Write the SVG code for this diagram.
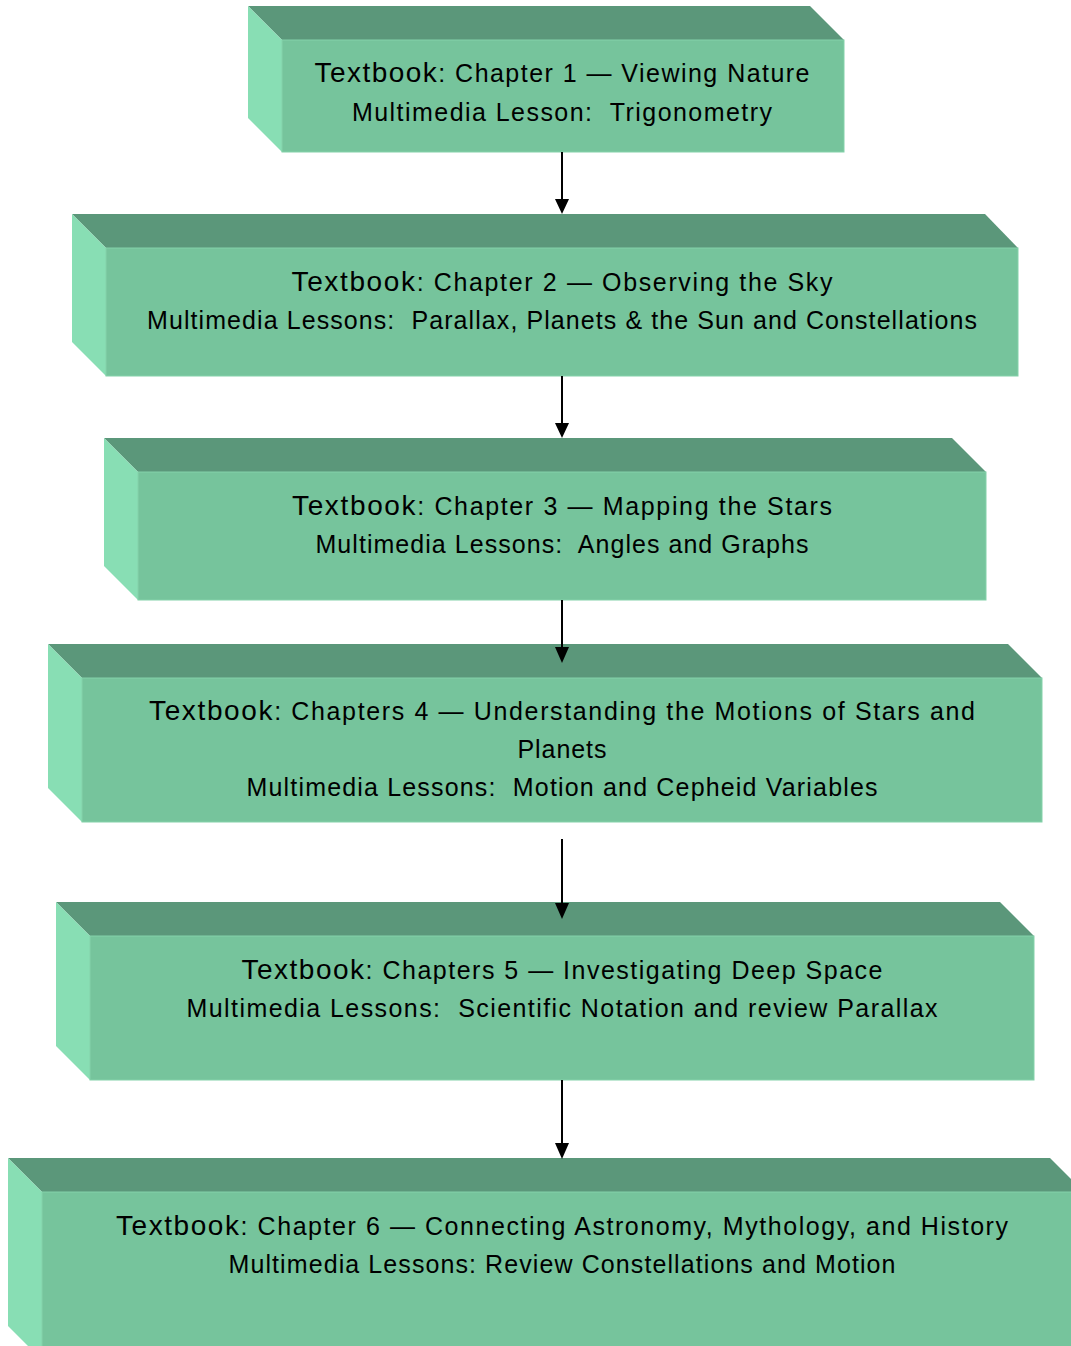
<svg xmlns="http://www.w3.org/2000/svg" width="1071" height="1346" viewBox="0 0 1071 1346">
<style>
.top{fill:#5B977A}
.left{fill:#88DEB4}
.front{fill:#76C49C;stroke:#84D2AA;stroke-width:1}
text{font-family:"Liberation Sans",Arial,sans-serif;font-size:25px;fill:#000;text-anchor:middle;white-space:pre}
.big{font-size:28px}
.conn{stroke:#000;stroke-width:2;fill:none}
.head{fill:#000}
</style>
<g id="node1">
<polygon class="top" points="248,6 810,6 844,40 282,40"/>
<polygon class="left" points="248,6 282,40 282,152 248,118"/>
<rect class="front" x="282" y="40" width="562" height="112"/>
<text x="562" y="82" textLength="495" lengthAdjust="spacing"><tspan class="big">Textbook</tspan>: Chapter 1 — Viewing Nature</text>
<text x="562" y="121" textLength="420" lengthAdjust="spacing">Multimedia Lesson:  Trigonometry</text>
</g>
<g id="node2">
<polygon class="top" points="72,214 985,214 1018,248 106,248"/>
<polygon class="left" points="72,214 106,248 106,376 72,342"/>
<rect class="front" x="106" y="248" width="912" height="128"/>
<text x="562" y="291" textLength="541" lengthAdjust="spacing"><tspan class="big">Textbook</tspan>: Chapter 2 — Observing the Sky</text>
<text x="562" y="329" textLength="830" lengthAdjust="spacing">Multimedia Lessons:  Parallax, Planets &amp; the Sun and Constellations</text>
</g>
<g id="node3">
<polygon class="top" points="104,438 952,438 986,472 138,472"/>
<polygon class="left" points="104,438 138,472 138,600 104,566"/>
<rect class="front" x="138" y="472" width="848" height="128"/>
<text x="562" y="515" textLength="540" lengthAdjust="spacing"><tspan class="big">Textbook</tspan>: Chapter 3 — Mapping the Stars</text>
<text x="562" y="553" textLength="493" lengthAdjust="spacing">Multimedia Lessons:  Angles and Graphs</text>
</g>
<g id="node4">
<polygon class="top" points="48,644 1008,644 1042,678 82,678"/>
<polygon class="left" points="48,644 82,678 82,822 48,788"/>
<rect class="front" x="82" y="678" width="960" height="144"/>
<text x="562" y="720" textLength="826" lengthAdjust="spacing"><tspan class="big">Textbook</tspan>: Chapters 4 — Understanding the Motions of Stars and</text>
<text x="562" y="758" textLength="89" lengthAdjust="spacing">Planets</text>
<text x="562" y="796" textLength="631" lengthAdjust="spacing">Multimedia Lessons:  Motion and Cepheid Variables</text>
</g>
<g id="node5">
<polygon class="top" points="56,902 1000,902 1034,936 90,936"/>
<polygon class="left" points="56,902 90,936 90,1080 56,1046"/>
<rect class="front" x="90" y="936" width="944" height="144"/>
<text x="562" y="979" textLength="641" lengthAdjust="spacing"><tspan class="big">Textbook</tspan>: Chapters 5 — Investigating Deep Space</text>
<text x="562" y="1017" textLength="751" lengthAdjust="spacing">Multimedia Lessons:  Scientific Notation and review Parallax</text>
</g>
<g id="node6">
<polygon class="top" points="8,1158 1050,1158 1084,1192 42,1192"/>
<polygon class="left" points="8,1158 42,1192 42,1360 8,1326"/>
<rect class="front" x="42" y="1192" width="1060" height="170"/>
<text x="562" y="1235" textLength="892" lengthAdjust="spacing"><tspan class="big">Textbook</tspan>: Chapter 6 — Connecting Astronomy, Mythology, and History</text>
<text x="562" y="1273" textLength="667" lengthAdjust="spacing">Multimedia Lessons: Review Constellations and Motion</text>
</g>
<g id="connectors">
<line class="conn" x1="562" y1="152" x2="562" y2="200"/><polygon class="head" points="555,199 569,199 562,214"/>
<line class="conn" x1="562" y1="376" x2="562" y2="424"/><polygon class="head" points="555,423 569,423 562,438"/>
<line class="conn" x1="562" y1="600" x2="562" y2="648"/><polygon class="head" points="555,647 569,647 562,663"/>
<line class="conn" x1="562" y1="839" x2="562" y2="905"/><polygon class="head" points="555,903 569,903 562,919"/>
<line class="conn" x1="562" y1="1080" x2="562" y2="1144"/><polygon class="head" points="555,1143 569,1143 562,1159"/>
</g>
</svg>
